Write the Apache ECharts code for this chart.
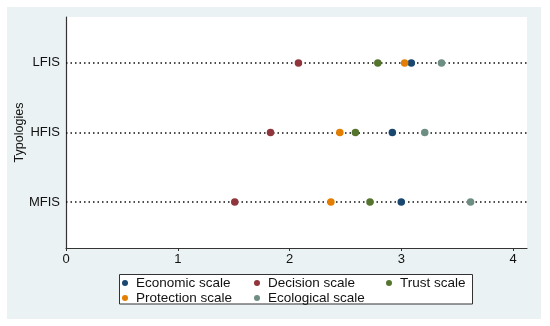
<!DOCTYPE html>
<html>
<head>
<meta charset="utf-8">
<script src="https://cdn.jsdelivr.net/npm/echarts@6/dist/echarts.min.js"></script>
<style>
html,body{margin:0;padding:0;background:#ffffff;}
#chart{width:550px;height:326px;}
</style>
</head>
<body>
<div id="chart"></div>
<script>
const categories = ['LFIS', 'HFIS', 'MFIS'];
const seriesNames = ['Economic scale', 'Decision scale', 'Trust scale', 'Protection scale', 'Ecological scale'];
const economic = [3.09, 2.92, 3.00];
const decision = [2.08, 1.83, 1.51];
const trust = [2.79, 2.59, 2.72];
const protection = [3.03, 2.45, 2.37];
const ecological = [3.36, 3.21, 3.62];
const xTicks = [0, 1, 2, 3, 4];
const colors = ['#1a476f', '#90353b', '#55752f', '#e37e00', '#6e8e84'];

const values = [economic, decision, trust, protection, ecological];
const chart = echarts.init(document.getElementById('chart'), null, {renderer: 'canvas'});
const FONT = 'Liberation Sans, Arial, sans-serif';

const series = seriesNames.map((name, s) => ({
  name: name,
  type: 'scatter',
  symbol: 'circle',
  symbolSize: 7.5,
  itemStyle: {color: colors[s], opacity: 1},
  z: 5,
  data: values[s].map((v, i) => [v, i + 1]),
  markLine: s === 0 ? {
    silent: true,
    symbol: 'none',
    label: {show: false},
    lineStyle: {color: '#111', type: [1.5, 3.0], width: 1.5},
    data: categories.map((c, i) => ({yAxis: i + 1})),
    z: 1
  } : undefined
}));

const legendPos = [
  {left: 122, top: 276},
  {left: 254, top: 276},
  {left: 386, top: 276},
  {left: 122, top: 291},
  {left: 254, top: 291}
];

chart.setOption({
  backgroundColor: '#ffffff',
  animation: false,
  graphic: [
    {type: 'rect', shape: {x: 7, y: 7, width: 534, height: 312}, style: {fill: '#eaf2f3'}, z: -10},
    {type: 'rect', shape: {x: 119.5, y: 274.5, width: 353, height: 29.5}, style: {fill: '#ffffff', stroke: '#333', lineWidth: 1}, z: -5}
  ],
  grid: {left: 66, right: 23, top: 17, bottom: 78, show: true, backgroundColor: '#ffffff', borderWidth: 0, containLabel: false, outerBoundsMode: 'none'},
  xAxis: {
    type: 'value',
    min: 0,
    max: 4.125,
    interval: 1,
    axisLine: {show: true, onZero: false, lineStyle: {color: '#333', width: 1.2}},
    axisTick: {show: true, length: 3, lineStyle: {color: '#333'}, customValues: xTicks},
    axisLabel: {customValues: xTicks, color: '#111', fontSize: 13, fontFamily: FONT, margin: 5},
    splitLine: {show: false}
  },
  yAxis: {
    type: 'value',
    inverse: true,
    min: 0.34,
    max: 3.66,
    name: 'Typologies',
    nameLocation: 'middle',
    nameGap: 40,
    nameMoveOverlap: false,
    nameRotate: 90,
    nameTextStyle: {color: '#111', fontSize: 12.5, fontFamily: FONT},
    axisLine: {show: true, onZero: false, lineStyle: {color: '#333', width: 1.2}},
    axisTick: {show: false},
    axisLabel: {
      customValues: [1, 2, 3],
      formatter: v => categories[Math.round(v) - 1] || '',
      color: '#111', fontSize: 13, fontFamily: FONT, margin: 6
    },
    splitLine: {show: false}
  },
  legend: seriesNames.map((n, i) => ({
    data: [n],
    left: legendPos[i].left,
    top: legendPos[i].top,
    orient: 'horizontal',
    icon: 'circle',
    itemWidth: 6,
    itemHeight: 6,
    itemGap: 5,
    padding: 0,
    textStyle: {color: '#111', fontSize: 13.5, fontFamily: FONT, padding: [0, 0, 0, 3]},
    selectedMode: false
  })),
  series: series
});
</script>
</body>
</html>
